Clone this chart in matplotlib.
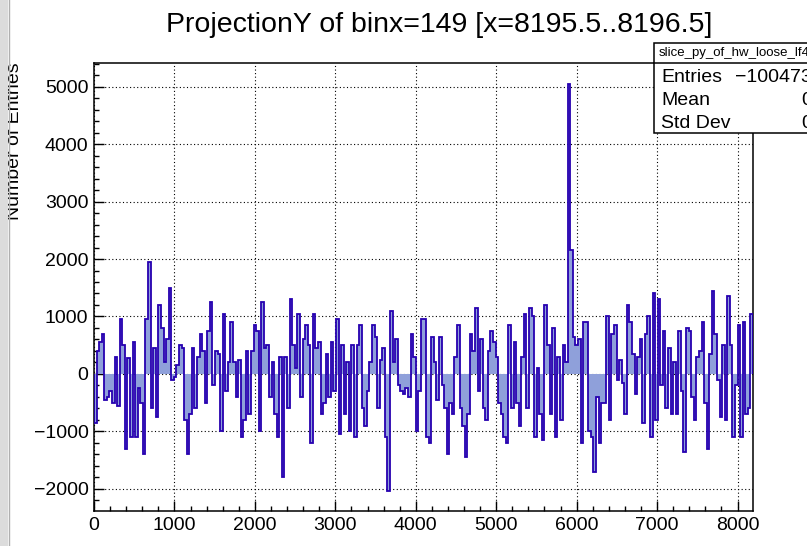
import numpy as np
import matplotlib
matplotlib.use('Agg')
import matplotlib.pyplot as plt
from matplotlib.patches import Rectangle
from matplotlib.ticker import MultipleLocator

plt.rcParams['font.family'] = ['Liberation Sans', 'DejaVu Sans']

# bin contents, 32-wide bins from 0 to 8192
counts_a = [-850, 400, 550, 700, -450, -400, -300, -500, 300, -550, 950, 500,
            -1300, 270, -1100, 550, -1100, -250, -500, -1400, 950, 1950, -600,
            450, -750, 1200, 800, 200, 600, 1500, -100, -50, 150, 500, 450, -800,
            -1400, -700, 450, -600, 300, 700, 400, -500, 750, 1250, -200, 400,
            350, -1000, 1050, -300, 200, 900, 200, -400, 250, -1100, -800, 400,
            -700, 400, 850, 750, -1000]
counts_b = [1250, 450, 500, -400, 200, -700, -1100, 300, -1800, 300, -600, 1300,
            500, 100, 1050, -400, 600, 850, 500, -1200, 1050, 450, 550, -700,
            -500, 350, -400, 550, -300, 950, -1050, 500, -700, 200, -1000, 500,
            -1100, 500, 850, -600, -900, -300, 200, 850, 650, -600, 250, 450,
            -1100, -2030, 1100, 200, 600, -200, -300, -350, -250, -400, 700, 300,
            -1000, -300, 950]
counts_c = [950, -1100, -1200, 650, 200, -450, 650, -200, -600, -1400, -500, -700,
            300, 850, -600, -900, -1450, -700, 700, 400, 1150, -300, 600, -600,
            -800, 400, 750, 550, 300, -500, -700, -1100, -1200, 850, -600, 550,
            -500, -900, 300, 1050, -600, 1150, 1000, -1100, 100, -700, -1150, 1200,
            500, -700, 800, -1100, 300, -800, 500, 200, 5050, 2150, 650, 500, 600,
            -1200, 900]
counts_d = [900, -1000, -1100, -1700, -400, -1200, -500, -500, 1000, -800, 700,
            850, -100, 250, -150, -700, 1200, 900, 350, -350, 300, 600, -850, 700,
            1000, -1100, 1400, -800, 1300, -200, 750, -600, 450, -700, 200, -700,
            750, -300, -1350, 800, 750, -400, -800, 300, 400, 900, -500, -1300, 350,
            1450, 700, -100, -750, 500, -800, 1350, 500, -1100, -200, 850, -1100,
            900, -700, -600, 1050]

stat_names = ['Entries', 'Mean', 'Std Dev']
stat_values = ['\u2212100473', '0', '0']

counts = np.concatenate([counts_a, counts_b, counts_c, counts_d])
n_bins = len(counts)
edges = np.linspace(0, 8192, n_bins + 1)

fig = plt.figure(figsize=(8.07, 5.46), dpi=100)
W, H = 807, 546
ax = fig.add_axes([94 / W, 1 - 511 / H, (753 - 94) / W, (511 - 63) / H])

ax.stairs(counts, edges, baseline=0, fill=True, color='#8fa0da', zorder=2)
ax.stairs(counts, edges, baseline=0, color='#2600b0', lw=1.3, zorder=3)

ax.set_xlim(0, 8192)
ax.set_ylim(-2384, 5410)
ax.xaxis.set_major_locator(MultipleLocator(1000))
ax.xaxis.set_minor_locator(MultipleLocator(200))
ax.yaxis.set_major_locator(MultipleLocator(1000))
ax.yaxis.set_minor_locator(MultipleLocator(200))
ax.tick_params(which='both', direction='in', top=False, right=False,
               labelsize=14, width=1)
ax.tick_params(which='major', length=7)
ax.tick_params(which='minor', length=3.5)
ax.tick_params(axis='y', pad=4)
ax.tick_params(axis='x', pad=4)
ax.grid(True, which='major', color='black', linestyle=(0, (1, 2.2)), lw=0.8, zorder=1)
ax.set_axisbelow(True)
for s in ax.spines.values():
    s.set_linewidth(1.1)

ax.yaxis.set_major_formatter(plt.FuncFormatter(lambda v, p: f'{int(v)}'.replace('-', '\u2212')))

fig.text(439 / W, 1 - 25 / H, 'ProjectionY of binx=149 [x=8195.5..8196.5]',
         ha='center', va='center', fontsize=20.5)
fig.text(15 / W, 1 - 62 / H, 'Number of Entries', rotation=90,
         ha='center', va='top', fontsize=14)

# stats box, cut by the right edge
box_l, box_t, box_b = 654, 43, 133
fig.patches.append(Rectangle((box_l / W, 1 - box_b / H), (830 - box_l) / W,
                             (box_b - box_t) / H, transform=fig.transFigure,
                             facecolor='white', edgecolor='black', lw=1.1, zorder=5))
fig.add_artist(plt.Line2D([box_l / W, 1], [1 - 63 / H, 1 - 63 / H],
                          transform=fig.transFigure, color='black', lw=1.1, zorder=6))
fig.text(659 / W, 1 - 53 / H, 'slice_py_of_hw_loose_lf4', fontsize=9.5,
         ha='left', va='center', zorder=7)
for i, (name, val) in enumerate(zip(stat_names, stat_values)):
    y = 1 - (78 + 22.5 * i) / H
    fig.text(661 / W, y, name, fontsize=14, ha='left', va='center', zorder=7)
    fig.text(812 / W, y, val, fontsize=14, ha='right', va='center', zorder=7)

# window border on the left
fig.patches.append(Rectangle((0, 0), 8 / W, 1, transform=fig.transFigure,
                             facecolor='#dcdcdc', edgecolor='none', zorder=8))
fig.add_artist(plt.Line2D([8.5 / W, 8.5 / W], [0, 1], transform=fig.transFigure,
                          color='#b0b0b0', lw=1, zorder=9))

fig.savefig('out.png', dpi=100)
